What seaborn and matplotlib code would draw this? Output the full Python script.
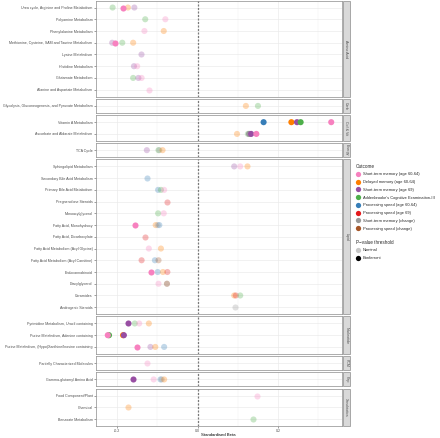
import matplotlib
matplotlib.use("Agg")
import matplotlib.pyplot as plt
from matplotlib.patches import Rectangle
from matplotlib.lines import Line2D
import seaborn as sns
import pandas as pd

# ---------------- data ----------------
groups = ["Amino Acid", "Carb", "Cof & Vit", "Energy", "Lipid", "Nucleotide", "PCM", "Pep", "Xenobiotics"]

rows_amino = ["Urea cycle, Arginine and Proline Metabolism", "Polyamine Metabolism", "Phenylalanine Metabolism",
              "Methionine, Cysteine, SAM and Taurine Metabolism", "Lysine Metabolism", "Histidine Metabolism",
              "Glutamate Metabolism", "Alanine and Aspartate Metabolism"]
rows_carb = ["Glycolysis, Gluconeogenesis, and Pyruvate Metabolism"]
rows_cof = ["Vitamin A Metabolism", "Ascorbate and Aldarate Metabolism"]
rows_energy = ["TCA Cycle"]
rows_lipid = ["Sphingolipid Metabolism", "Secondary Bile Acid Metabolism", "Primary Bile Acid Metabolism",
              "Pregnenolone Steroids", "Monoacylglycerol", "Fatty Acid, Monohydroxy", "Fatty Acid, Dicarboxylate",
              "Fatty Acid Metabolism (Acyl Glycine)", "Fatty Acid Metabolism (Acyl Carnitine)", "Endocannabinoid",
              "Diacylglycerol", "Ceramides", "Androgenic Steroids"]
rows_nucl = ["Pyrimidine Metabolism, Uracil containing", "Purine Metabolism, Adenine containing",
             "Purine Metabolism, (Hypo)Xanthine/Inosine containing"]
rows_pcm = ["Partially Characterized Molecules"]
rows_pep = ["Gamma-glutamyl Amino Acid"]
rows_xeno = ["Food Component/Plant", "Chemical", "Benzoate Metabolism"]
group_rows = [rows_amino, rows_carb, rows_cof, rows_energy, rows_lipid, rows_nucl, rows_pcm, rows_pep, rows_xeno]

outcomes = ["Short-term memory (age 60-64)", "Delayed memory (age 60-64)", "Short-term memory (age 69)",
            "Addenbrooke's Cognitive Examination-III", "Processing speed (age 60-64)", "Processing speed (age 69)",
            "Short-term memory (change)", "Processing speed (change)"]
outcome_codes = ["P", "O", "U", "G", "B", "R", "Y", "N"]
outcome_colors = ["#F781BF", "#FF7F00", "#984EA3", "#4DAF4A", "#377EB8", "#E41A1C", "#999999", "#A65628"]

# each point: (metabolite row, outcome code, beta, threshold N=Nominal / B=Bonferroni)
points = [
    ("Urea cycle, Arginine and Proline Metabolism", "G", -0.211, "N"),
    ("Urea cycle, Arginine and Proline Metabolism", "O", -0.173, "N"),
    ("Urea cycle, Arginine and Proline Metabolism", "U", -0.157, "N"),
    ("Urea cycle, Arginine and Proline Metabolism", "P", -0.184, "B"),
    ("Polyamine Metabolism", "G", -0.130, "N"),
    ("Polyamine Metabolism", "P", -0.080, "N"),
    ("Phenylalanine Metabolism", "P", -0.132, "N"),
    ("Phenylalanine Metabolism", "O", -0.084, "N"),
    ("Methionine, Cysteine, SAM and Taurine Metabolism", "U", -0.212, "N"),
    ("Methionine, Cysteine, SAM and Taurine Metabolism", "G", -0.187, "N"),
    ("Methionine, Cysteine, SAM and Taurine Metabolism", "O", -0.160, "N"),
    ("Methionine, Cysteine, SAM and Taurine Metabolism", "P", -0.204, "B"),
    ("Lysine Metabolism", "U", -0.141, "N"),
    ("Histidine Metabolism", "U", -0.158, "N"),
    ("Histidine Metabolism", "P", -0.150, "N"),
    ("Glutamate Metabolism", "G", -0.160, "N"),
    ("Glutamate Metabolism", "U", -0.147, "N"),
    ("Glutamate Metabolism", "P", -0.139, "N"),
    ("Alanine and Aspartate Metabolism", "P", -0.121, "N"),
    ("Glycolysis, Gluconeogenesis, and Pyruvate Metabolism", "O", 0.120, "N"),
    ("Glycolysis, Gluconeogenesis, and Pyruvate Metabolism", "G", 0.150, "N"),
    ("Vitamin A Metabolism", "B", 0.164, "B"),
    ("Vitamin A Metabolism", "O", 0.233, "B"),
    ("Vitamin A Metabolism", "U", 0.247, "B"),
    ("Vitamin A Metabolism", "G", 0.256, "B"),
    ("Vitamin A Metabolism", "P", 0.332, "B"),
    ("Ascorbate and Aldarate Metabolism", "O", 0.098, "N"),
    ("Ascorbate and Aldarate Metabolism", "G", 0.125, "N"),
    ("Ascorbate and Aldarate Metabolism", "Y", 0.128, "B"),
    ("Ascorbate and Aldarate Metabolism", "U", 0.133, "B"),
    ("Ascorbate and Aldarate Metabolism", "P", 0.146, "B"),
    ("TCA Cycle", "U", -0.126, "N"),
    ("TCA Cycle", "G", -0.097, "N"),
    ("TCA Cycle", "Y", -0.095, "N"),
    ("TCA Cycle", "O", -0.087, "N"),
    ("Sphingolipid Metabolism", "U", 0.091, "N"),
    ("Sphingolipid Metabolism", "P", 0.106, "N"),
    ("Sphingolipid Metabolism", "O", 0.124, "N"),
    ("Secondary Bile Acid Metabolism", "B", -0.126, "N"),
    ("Primary Bile Acid Metabolism", "B", -0.098, "N"),
    ("Primary Bile Acid Metabolism", "G", -0.091, "N"),
    ("Primary Bile Acid Metabolism", "P", -0.083, "N"),
    ("Pregnenolone Steroids", "R", -0.075, "N"),
    ("Monoacylglycerol", "G", -0.098, "N"),
    ("Monoacylglycerol", "P", -0.084, "N"),
    ("Fatty Acid, Monohydroxy", "O", -0.104, "N"),
    ("Fatty Acid, Monohydroxy", "Y", -0.099, "N"),
    ("Fatty Acid, Monohydroxy", "B", -0.095, "N"),
    ("Fatty Acid, Monohydroxy", "P", -0.155, "B"),
    ("Fatty Acid, Dicarboxylate", "R", -0.130, "N"),
    ("Fatty Acid Metabolism (Acyl Glycine)", "P", -0.121, "N"),
    ("Fatty Acid Metabolism (Acyl Glycine)", "O", -0.091, "N"),
    ("Fatty Acid Metabolism (Acyl Carnitine)", "R", -0.139, "N"),
    ("Fatty Acid Metabolism (Acyl Carnitine)", "B", -0.106, "N"),
    ("Fatty Acid Metabolism (Acyl Carnitine)", "N", -0.097, "N"),
    ("Endocannabinoid", "B", -0.099, "N"),
    ("Endocannabinoid", "O", -0.086, "N"),
    ("Endocannabinoid", "R", -0.075, "N"),
    ("Endocannabinoid", "P", -0.116, "B"),
    ("Diacylglycerol", "P", -0.097, "N"),
    ("Diacylglycerol", "Y", -0.076, "N"),
    ("Diacylglycerol", "N", -0.076, "N"),
    ("Ceramides", "O", 0.091, "N"),
    ("Ceramides", "R", 0.095, "N"),
    ("Ceramides", "G", 0.106, "N"),
    ("Androgenic Steroids", "Y", 0.094, "N"),
    ("Pyrimidine Metabolism, Uracil containing", "G", -0.156, "N"),
    ("Pyrimidine Metabolism, Uracil containing", "P", -0.145, "N"),
    ("Pyrimidine Metabolism, Uracil containing", "O", -0.121, "N"),
    ("Pyrimidine Metabolism, Uracil containing", "U", -0.174, "B"),
    ("Purine Metabolism, Adenine containing", "G", -0.220, "B"),
    ("Purine Metabolism, Adenine containing", "P", -0.223, "B"),
    ("Purine Metabolism, Adenine containing", "O", -0.185, "B"),
    ("Purine Metabolism, Adenine containing", "U", -0.183, "B"),
    ("Purine Metabolism, (Hypo)Xanthine/Inosine containing", "U", -0.117, "N"),
    ("Purine Metabolism, (Hypo)Xanthine/Inosine containing", "O", -0.105, "N"),
    ("Purine Metabolism, (Hypo)Xanthine/Inosine containing", "B", -0.083, "N"),
    ("Purine Metabolism, (Hypo)Xanthine/Inosine containing", "P", -0.150, "B"),
    ("Partially Characterized Molecules", "P", -0.125, "N"),
    ("Gamma-glutamyl Amino Acid", "P", -0.109, "N"),
    ("Gamma-glutamyl Amino Acid", "B", -0.092, "N"),
    ("Gamma-glutamyl Amino Acid", "Y", -0.089, "N"),
    ("Gamma-glutamyl Amino Acid", "O", -0.083, "N"),
    ("Gamma-glutamyl Amino Acid", "U", -0.160, "B"),
    ("Food Component/Plant", "P", 0.148, "N"),
    ("Chemical", "O", -0.173, "N"),
    ("Benzoate Metabolism", "G", 0.137, "N"),
]

x_ticks = [-0.2, 0.0, 0.2]
x_tick_labels = ["-0.2", "0.0", "0.2"]
x_minor = [-0.1, 0.1, 0.3]

# ---------------- build frame ----------------
code2out = dict(zip(outcome_codes, outcomes))
palette = dict(zip(outcomes, outcome_colors))
row2group = {r: g for g, rs in zip(groups, group_rows) for r in rs}
df = pd.DataFrame(points, columns=["metabolite", "code", "beta", "sig"])
df["outcome"] = df["code"].map(code2out)
df["group"] = df["metabolite"].map(row2group)
df["threshold"] = df["sig"].map({"N": "Nominal", "B": "Bonferroni"})

# ---------------- plot ----------------
sns.set_theme(style="white")
plt.rcParams["font.family"] = ["Liberation Sans", "DejaVu Sans"]

W, H = 440, 438
fig = plt.figure(figsize=(W / 100, H / 100), dpi=100)
heights = [len(r) + 0.2 for r in group_rows]
gs = fig.add_gridspec(len(groups), 1, height_ratios=heights,
                      left=95.7 / W, right=341.7 / W, top=1 - 0.5 / H, bottom=1 - 426.2 / H,
                      hspace=0.048)

tick_fs = 2.62
grey30 = "#4D4D4D"
border = "#8C8C8C"

for i, (g, rs) in enumerate(zip(groups, group_rows)):
    ax = fig.add_subplot(gs[i])
    sub = df[df["group"] == g]
    for thr, alpha in [("Nominal", 0.3), ("Bonferroni", 1.0)]:
        s = sub[sub["threshold"] == thr]
        if len(s):
            sns.stripplot(data=s, x="beta", y="metabolite", hue="outcome", order=rs,
                          hue_order=outcomes, palette=palette, jitter=False, size=4.4,
                          alpha=alpha, linewidth=0, ax=ax, legend=False, orient="h", zorder=4)
    n = len(rs)
    ax.set_xlim(-0.253, 0.358)
    ax.set_ylim(n - 1 + 0.6, -0.6)
    ax.set_xticks(x_ticks)
    ax.set_xticks(x_minor, minor=True)
    ax.set_xticklabels(x_tick_labels)
    ax.set_facecolor("white")
    ax.grid(False)
    ax.xaxis.grid(True, which="major", color="#EBEBEB", lw=0.5, zorder=0)
    ax.xaxis.grid(True, which="minor", color="#F2F2F2", lw=0.35, zorder=0)
    ax.yaxis.grid(True, which="major", color="#EBEBEB", lw=0.5, zorder=0)
    ax.set_axisbelow(True)
    ax.axvline(0, color="#7A7A7A", ls=(0, (1.6, 1.2)), lw=0.9, zorder=3)
    for sp in ax.spines.values():
        sp.set_color(border)
        sp.set_linewidth(0.5)
    ax.tick_params(axis="both", which="major", labelsize=tick_fs, labelcolor=grey30,
                   color="#555555", length=1.5, width=0.4, pad=0.8, left=True, bottom=True)
    ax.tick_params(axis="x", which="major", pad=0.4)
    ax.tick_params(axis="x", which="minor", length=0)
    ax.set_xlabel("")
    ax.set_ylabel("")
    if i < len(groups) - 1:
        ax.tick_params(axis="x", labelbottom=False, bottom=False)
    else:
        ax.set_xlabel("Standardised Beta", fontsize=3.1, color="black", labelpad=0.4)
    # facet strip
    ax.add_patch(Rectangle((1.004, 0), 0.029, 1, transform=ax.transAxes, clip_on=False,
                           facecolor="#D9D9D9", edgecolor=border, lw=0.5))
    ax.text(1.0185, 0.5, g, transform=ax.transAxes, rotation=270, ha="center", va="center",
            fontsize=2.6, color=grey30)

# legends
h1 = [Line2D([], [], marker="o", ls="", markerfacecolor=c, markeredgewidth=0, markersize=3.8)
      for c in outcome_colors]
leg1 = fig.legend(h1, outcomes, title="Outcome", loc="upper left", bbox_to_anchor=(356 / W, 1 - 163.5 / H),
                  frameon=False, fontsize=2.85, title_fontsize=3.3, alignment="left",
                  handletextpad=0.75, labelspacing=0.95, handlelength=1.0, borderaxespad=0, borderpad=0)
h2 = [Line2D([], [], marker="o", ls="", markerfacecolor="black", alpha=a, markeredgewidth=0, markersize=3.8)
      for a in (0.22, 1.0)]
leg2 = fig.legend(h2, ["Nominal", "Bonferroni"], title="P\u2212value threshold", loc="upper left",
                  bbox_to_anchor=(356 / W, 1 - 239.5 / H),
                  frameon=False, fontsize=2.85, title_fontsize=3.3, alignment="left",
                  handletextpad=0.75, labelspacing=0.95, handlelength=1.0, borderaxespad=0, borderpad=0)

fig.savefig("out.png", dpi=100, facecolor="white")
